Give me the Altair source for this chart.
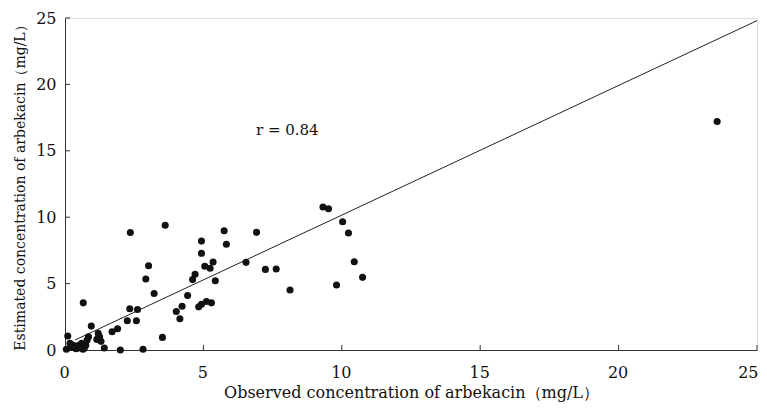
import altair as alt
import pandas as pd

obs = [0.05, 0.1, 0.18, 0.3, 0.4, 0.5, 0.6, 0.65, 0.75, 0.8, 0.85, 0.7, 0.25, 0.55,
       0.95, 0.66, 1.15, 1.2, 1.3, 1.25, 1.42, 1.7, 1.9, 2.0, 2.25, 2.58, 2.34, 2.62,
       2.82, 2.92, 3.02, 3.22, 3.52, 3.62, 2.36, 4.02, 4.15, 4.23, 4.43, 4.61, 4.7, 4.83, 4.93,
       5.11, 5.29, 4.93, 4.93, 5.05, 5.24, 5.35, 5.43, 5.75, 5.83, 6.54, 6.92, 7.24, 7.63,
       8.13, 9.32, 9.52, 10.03, 10.24, 10.45, 10.75, 9.81, 23.56]
est = [0.05, 1.05, 0.5, 0.35, 0.1, 0.35, 0.5, 0.05, 0.35, 0.75, 1.0, 0.15, 0.2, 0.15,
       1.8, 3.55, 0.8, 1.25, 0.65, 1.0, 0.15, 1.38, 1.6, 0.0, 2.2, 2.2, 3.1, 3.05,
       0.05, 5.35, 6.35, 4.25, 0.95, 9.4, 8.85, 2.9, 2.35, 3.3, 4.1, 5.3, 5.7, 3.25, 3.45,
       3.65, 3.55, 8.2, 7.28, 6.3, 6.15, 6.63, 5.22, 8.98, 7.96, 6.6, 8.86, 6.07, 6.1,
       4.52, 10.77, 10.64, 9.66, 8.81, 6.65, 5.47, 4.89, 17.2]

line_x = [0.36, 25.0]
line_y = [0.75, 24.8]

tick_vals = [5, 10, 15, 20, 25]
r_label = ["r = 0.84"]
r_pos = [(6.9, 16.6)]

font = "DejaVu Serif"
pts = pd.DataFrame({"obs": obs, "est": est})
ln = pd.DataFrame({"x": line_x, "y": line_y})
tk = pd.DataFrame({"v": tick_vals})
rt = pd.DataFrame({"x": [r_pos[0][0]], "y": [r_pos[0][1]], "t": r_label})

xs = alt.Scale(domain=[0, 25], nice=False)
ys = alt.Scale(domain=[0, 25], nice=False)

xaxis = alt.Axis(values=[0, 5, 10, 15, 20, 25], ticks=False, grid=False,
                 title="Observed concentration of arbekacin（mg/L）",
                 labelFont=font, labelFontSize=16, labelColor="#111",
                 labelAlign={"condition": {"test": "datum.value == 25", "value": "right"},
                             "value": "center"},
                 labelOffset={"condition": {"test": "datum.value == 25", "value": 1},
                              "value": -1},
                 titleFont=font, titleFontSize=16, titleFontWeight="normal",
                 titleColor="#111", labelPadding=14, titlePadding=4,
                 domainColor="#333", labelFlush=False)
yaxis = alt.Axis(values=[0, 5, 10, 15, 20, 25], ticks=False, grid=False,
                 title="Estimated concentration of arbekacin（mg/L）",
                 labelFont=font, labelFontSize=16, labelColor="#111",
                 titleFont=font, titleFontSize=14, titleFontWeight="normal",
                 titleColor="#111", labelPadding=9, titlePadding=8,
                 domainColor="#333", labelFlush=False)

points = alt.Chart(pts).mark_circle(size=50, color="#111", opacity=1).encode(
    x=alt.X("obs:Q", scale=xs, axis=xaxis),
    y=alt.Y("est:Q", scale=ys, axis=yaxis),
)
line = alt.Chart(ln).mark_line(color="#222", strokeWidth=1).encode(
    x=alt.X("x:Q", scale=xs), y=alt.Y("y:Q", scale=ys))
xt = alt.Chart(tk).mark_rule(color="#333", strokeWidth=1).encode(
    x=alt.X("v:Q", scale=xs), y=alt.value(332), y2=alt.value(327))
yt = alt.Chart(tk).mark_rule(color="#333", strokeWidth=1).encode(
    y=alt.Y("v:Q", scale=ys), x=alt.value(0), x2=alt.value(5))
txt = alt.Chart(rt).mark_text(font=font, fontSize=15, align="left",
                              baseline="middle", color="#111").encode(
    x=alt.X("x:Q", scale=xs), y=alt.Y("y:Q", scale=ys), text="t:N")

chart = alt.layer(line, points, xt, yt, txt).properties(
    width=692, height=332,
    padding={"left": 57, "top": 10, "right": 1, "bottom": 53},
    autosize="none",
).configure_view(stroke=None).configure(background="white")

chart.save("out.html", embed_options={"renderer": "svg", "actions": False})
